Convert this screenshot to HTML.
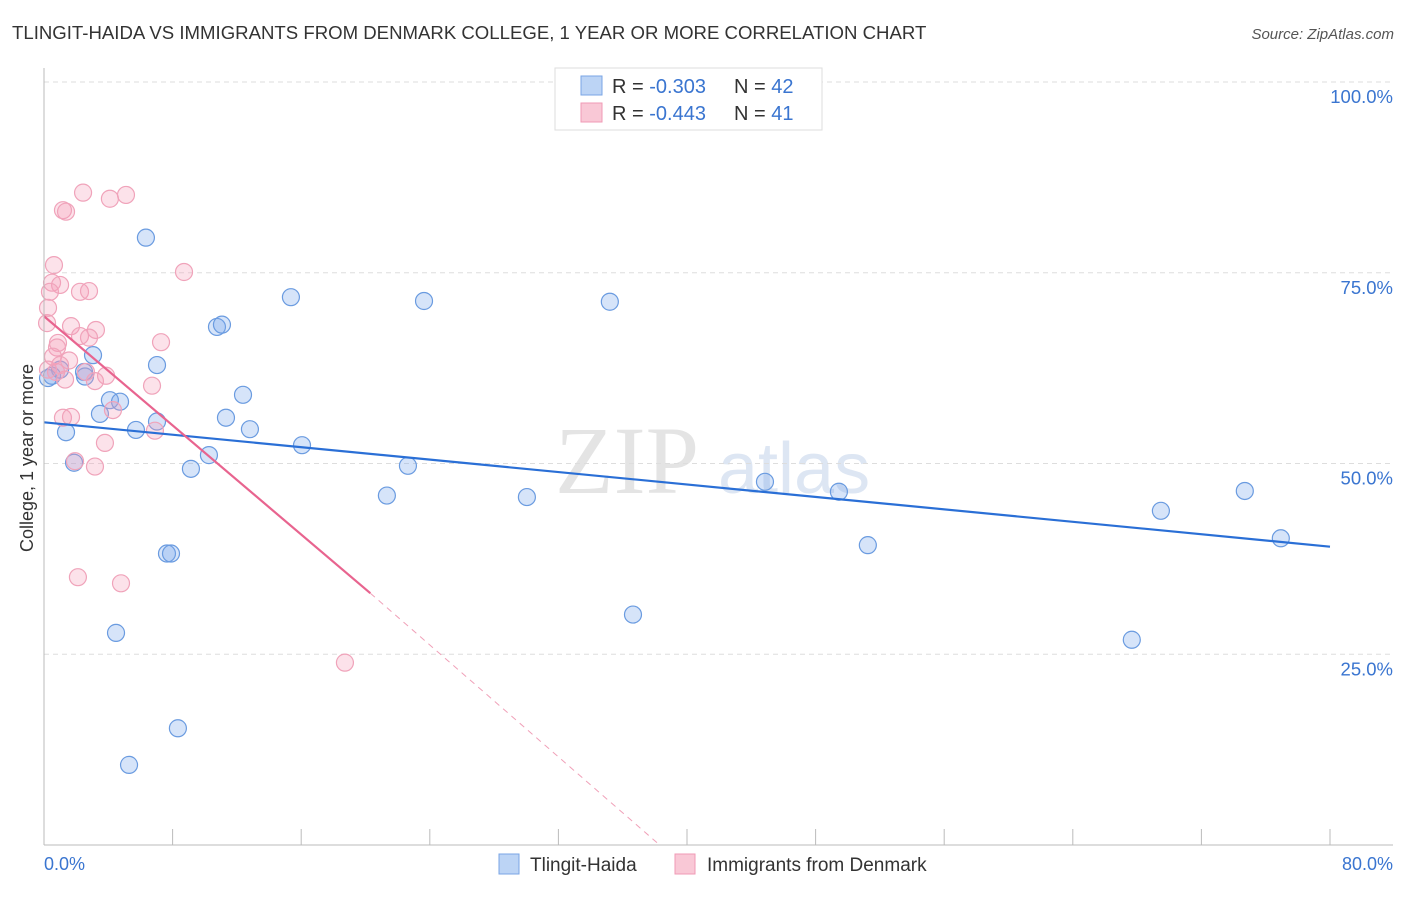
<!DOCTYPE html>
<html><head><meta charset="utf-8"><style>
body{margin:0;background:#fff;font-family:"Liberation Sans",sans-serif;}
svg text{font-family:"Liberation Sans",sans-serif;}
</style></head><body>
<svg id="chart" width="1406" height="892">
<text x="12" y="39" font-size="18.6" fill="#333">TLINGIT-HAIDA VS IMMIGRANTS FROM DENMARK COLLEGE, 1 YEAR OR MORE CORRELATION CHART</text>
<text x="1394" y="39" font-size="15" fill="#555" font-style="italic" text-anchor="end">Source: ZipAtlas.com</text>
<text x="33" y="458" font-size="18" fill="#333" text-anchor="middle" transform="rotate(-90 33 458)">College, 1 year or more</text>
<text x="555" y="493" font-size="96" fill="#e4e4e4" style="font-family:'Liberation Serif',serif">ZIP</text>
<text x="718" y="493" font-size="72" fill="#dde6f3">atlas</text>
<g id="grid"></g><g id="ticks"></g><g id="pts"></g><g id="lines"></g>
<line x1="44" y1="68" x2="44" y2="845" stroke="#bbb"/>
<line x1="44" y1="845" x2="1393" y2="845" stroke="#bbb"/>
<text x="44" y="870" font-size="18" fill="#3a75d0">0.0%</text>
<text x="1393" y="870" font-size="18" fill="#3a75d0" text-anchor="end">80.0%</text>
<g>
<rect x="555" y="68" width="267" height="62" fill="#fff" stroke="#ddd"/>
<rect x="581" y="76" width="21" height="19" fill="#bcd4f5" stroke="#7aa5e5"/>
<rect x="581" y="103" width="21" height="19" fill="#f9c8d6" stroke="#f09ab5"/>
<text x="612" y="93" font-size="20" fill="#333">R = <tspan fill="#3a75d0">-0.303</tspan></text>
<text x="734" y="93" font-size="20" fill="#333">N = <tspan fill="#3a75d0">42</tspan></text>
<text x="612" y="120" font-size="20" fill="#333">R = <tspan fill="#3a75d0">-0.443</tspan></text>
<text x="734" y="120" font-size="20" fill="#333">N = <tspan fill="#3a75d0"> 41</tspan></text>
</g>
<g>
<rect x="499" y="854" width="20" height="20" fill="#bcd4f5" stroke="#7aa5e5"/>
<text x="530" y="871" font-size="19" fill="#333">Tlingit-Haida</text>
<rect x="675" y="854" width="20" height="20" fill="#f9c8d6" stroke="#f09ab5"/>
<text x="707" y="871" font-size="19" fill="#333">Immigrants from Denmark</text>
</g>
</svg>
<script>
const blueX=[6.34,15.36,23.64,35.2,10.76,11.07,3.05,7.03,0.5,2.55,12.38,4.1,4.73,3.48,11.32,7.03,12.81,5.72,1.37,16.05,10.26,1.87,9.14,22.64,21.33,30.04,44.85,49.45,74.7,69.48,76.94,51.25,7.65,7.9,36.64,67.67,4.48,8.33,5.29,1.0,0.25,2.49];
const blueY=[79.6,71.8,71.3,71.2,67.9,68.2,64.2,62.9,61.5,61.4,59.0,58.3,58.1,56.5,56.0,55.5,54.5,54.4,54.1,52.4,51.1,50.1,49.3,49.7,45.8,45.6,47.6,46.3,46.4,43.8,40.2,39.3,38.2,38.2,30.2,26.9,27.8,15.3,10.5,62.3,61.2,62.0];
const pinkX=[2.43,4.1,5.1,1.18,1.37,8.71,0.62,0.5,1.0,2.24,2.8,0.37,0.25,0.19,1.68,3.23,2.24,2.8,0.87,0.81,7.28,0.56,1.56,0.75,2.61,3.86,3.17,1.31,6.72,4.29,1.18,1.68,6.9,3.79,1.93,3.17,2.11,4.79,18.72,0.25,1.0];
const pinkY=[85.5,84.7,85.2,83.2,83.0,75.1,76.0,73.7,73.4,72.5,72.6,72.5,70.4,68.4,68.0,67.5,66.7,66.5,65.8,65.2,65.9,64.0,63.5,62.0,62.0,61.5,60.8,61.0,60.2,57.0,56.0,56.1,54.3,52.7,50.3,49.6,35.1,34.3,23.9,62.3,62.9];
const yTicks=[25,50,75,100];
const yTickLabels=["25.0%","50.0%","75.0%","100.0%"];
const xTicks=[0,8,16,24,32,40,48,56,64,72,80];
const blueTrend=[[0,55.4],[80,39.1]];
const pinkTrend=[[0,69.3],[20.3,33.0],[38.3,0]];
const NS="http://www.w3.org/2000/svg";
const sx=v=>44+v/80*1286, sy=v=>845-v/100*763;
function mk(t,a,p){const e=document.createElementNS(NS,t);for(const k in a)e.setAttribute(k,a[k]);document.getElementById(p).appendChild(e);return e;}
yTicks.forEach((v,i)=>{
 const g=mk('line',{x1:44,x2:1393,y1:sy(v),y2:sy(v),stroke:'#ddd','stroke-dasharray':'5,4'},'grid');
 
 
 const t=mk('text',{x:1393,y:sy(v)+21,'font-size':18.5,fill:'#3a75d0','text-anchor':'end'},'grid');
 t.textContent=yTickLabels[i];
 
 
});
xTicks.forEach(v=>{
 const l=mk('line',{x1:sx(v),x2:sx(v),y1:829,y2:845,stroke:'#bbb'},'ticks');
 
 
});
blueX.forEach((x,i)=>{
 const c=mk('circle',{cx:sx(x),cy:sy(blueY[i]),r:8.5,fill:'rgba(120,165,235,0.3)',stroke:'#6a9be0','stroke-width':1.2},'pts');
 
 
});
pinkX.forEach((x,i)=>{
 const c=mk('circle',{cx:sx(x),cy:sy(pinkY[i]),r:8.5,fill:'rgba(245,160,185,0.3)',stroke:'#f0a3ba','stroke-width':1.2},'pts');
 
 
});
const b=mk('line',{x1:sx(blueTrend[0][0]),y1:sy(blueTrend[0][1]),x2:sx(blueTrend[1][0]),y2:sy(blueTrend[1][1]),stroke:'#2a6fd6','stroke-width':2.2},'lines');


const p=mk('line',{x1:sx(pinkTrend[0][0]),y1:sy(pinkTrend[0][1]),x2:sx(pinkTrend[1][0]),y2:sy(pinkTrend[1][1]),stroke:'#e8648f','stroke-width':2.2},'lines');


const pd=mk('line',{x1:sx(pinkTrend[1][0]),y1:sy(pinkTrend[1][1]),x2:sx(pinkTrend[2][0]),y2:sy(pinkTrend[2][1]),stroke:'#f0a0b8','stroke-width':1,'stroke-dasharray':'6,5'},'lines');


</script>
</body></html>
